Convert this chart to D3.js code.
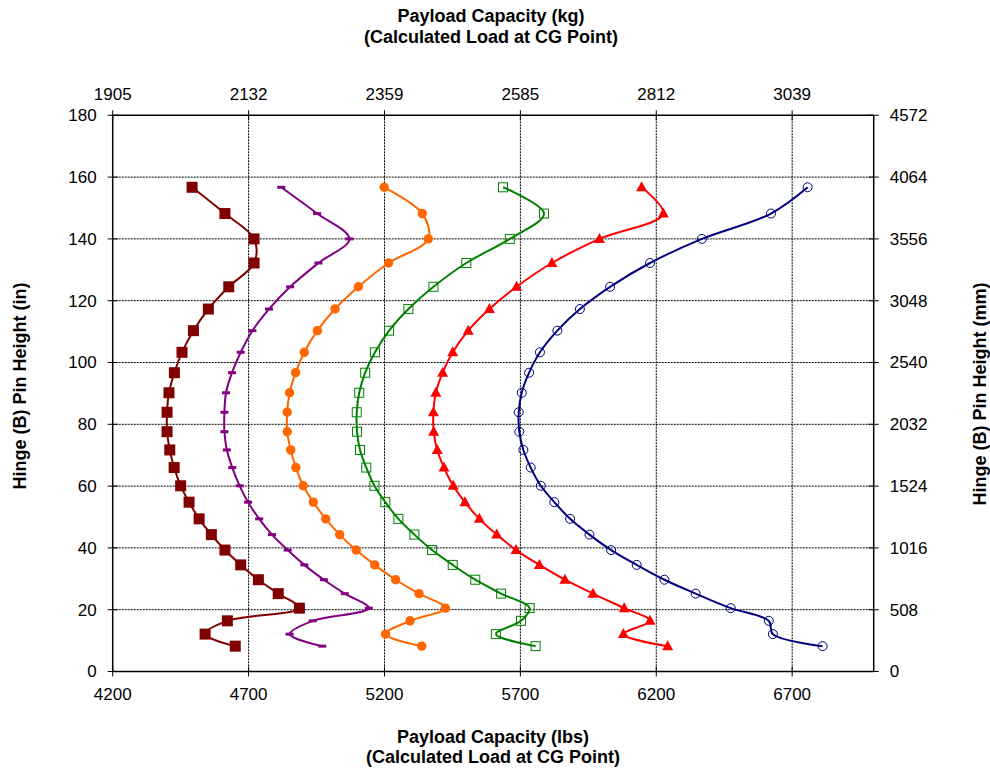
<!DOCTYPE html>
<html><head><meta charset="utf-8">
<script src="https://cdn.jsdelivr.net/npm/d3@7"></script>
<style>body{margin:0;background:#fff}svg{font-family:"Liberation Sans",Arial,sans-serif}</style>
</head><body><svg id="c" width="990" height="768"></svg>
<script>
const heightsIn = [8.2,12.1,16.4,20.5,25.2,29.7,34.5,39.3,44.3,49.4,54.8,60.1,66.0,71.7,77.6,83.9,90.2,96.7,103.3,110.3,117.3,124.5,132.2,140.0,148.2,156.7];
const seriesDarkRed = [4651,4540,4622,4887,4809,4736,4671,4613,4563,4518,4481,4450,4426,4410,4400,4400,4407,4427,4455,4497,4552,4627,4720,4720,4613,4492];
const seriesPurple  = [4971,4851,4936,5142,5054,4977,4905,4844,4786,4739,4698,4667,4640,4620,4611,4611,4617,4639,4671,4714,4775,4853,4957,5071,4952,4820];
const seriesOrange  = [5337,5204,5294,5424,5327,5241,5164,5096,5035,4984,4938,4901,4874,4855,4842,4842,4851,4873,4905,4953,5018,5104,5215,5361,5339,5199];
const seriesGreen   = [5756,5610,5702,5734,5629,5534,5451,5375,5310,5251,5203,5163,5133,5110,5099,5098,5107,5129,5165,5217,5288,5380,5501,5661,5787,5636];
const seriesRed     = [6242,6079,6177,6082,5967,5864,5770,5684,5613,5549,5496,5453,5419,5394,5381,5380,5389,5414,5451,5508,5586,5686,5816,5991,6226,6146];
const seriesBlue    = [6812,6629,6614,6474,6345,6230,6128,6034,5954,5883,5825,5775,5738,5711,5696,5694,5705,5732,5772,5836,5919,6030,6177,6368,6622,6757];
const lbsTicks = [4200,4700,5200,5700,6200,6700];
const kgTickLabels = ["1905","2132","2359","2585","2812","3039"];
const inTicks = [0,20,40,60,80,100,120,140,160,180];
const mmTicks = [0,508,1016,1524,2032,2540,3048,3556,4064,4572];

const series = [
  {v:seriesDarkRed, color:"#800000", marker:"squareFill"},
  {v:seriesPurple,  color:"#800080", marker:"dash"},
  {v:seriesOrange,  color:"#FF6600", marker:"circleFill"},
  {v:seriesGreen,   color:"#008000", marker:"squareOpen"},
  {v:seriesRed,     color:"#FF0000", marker:"triangle"},
  {v:seriesBlue,    color:"#000080", marker:"circleOpen"}
];

const svg = d3.select("#c");
const L=112.7, R=873.7, T=115.3, B=671.5;
const x = d3.scaleLinear().domain([4200,7000]).range([L,R]);
const y = d3.scaleLinear().domain([0,180]).range([B,T]);
const yMm = d3.scaleLinear().domain([0,4572]).range([B,T]);

// grid
const g = svg.append("g");
g.selectAll("line.hg").data(inTicks.filter(d=>d>0&&d<180)).enter().append("line")
  .attr("x1",L).attr("x2",R).attr("y1",d=>y(d)).attr("y2",d=>y(d))
  .attr("stroke","#000").attr("stroke-width",1).attr("stroke-dasharray","2,1");
g.selectAll("line.vg").data(lbsTicks.filter(d=>d>4200)).enter().append("line")
  .attr("y1",T).attr("y2",B).attr("x1",d=>x(d)).attr("x2",d=>x(d))
  .attr("stroke","#000").attr("stroke-width",1).attr("stroke-dasharray","2,1");

// frame lines
const ax = svg.append("g").attr("stroke","#000").attr("stroke-width",1.5);
ax.append("line").attr("x1",L).attr("x2",L).attr("y1",T).attr("y2",B);
ax.append("line").attr("x1",R).attr("x2",R).attr("y1",T).attr("y2",B);
ax.append("line").attr("x1",L).attr("x2",R).attr("y1",B).attr("y2",B);
ax.append("line").attr("x1",L).attr("x2",R).attr("y1",T).attr("y2",T);

// ticks
const tk = svg.append("g").attr("stroke","#000").attr("stroke-width",1);
inTicks.forEach(d=>{ tk.append("line").attr("x1",L-5).attr("x2",L+5).attr("y1",y(d)).attr("y2",y(d)); });
mmTicks.forEach(d=>{ tk.append("line").attr("x1",R-5).attr("x2",R+5).attr("y1",yMm(d)).attr("y2",yMm(d)); });
lbsTicks.forEach(d=>{ tk.append("line").attr("y1",B-5).attr("y2",B+5).attr("x1",x(d)).attr("x2",x(d));
                      tk.append("line").attr("y1",T-5).attr("y2",T+5).attr("x1",x(d)).attr("x2",x(d)); });

// tick labels
const fs = 17;
svg.selectAll("text.yl").data(inTicks).enter().append("text")
  .attr("x",L-16).attr("y",d=>y(d)).attr("dy","0.35em").attr("text-anchor","end")
  .attr("font-size",fs).text(d=>d);
svg.selectAll("text.yr").data(mmTicks).enter().append("text")
  .attr("x",R+16).attr("y",d=>yMm(d)).attr("dy","0.35em").attr("text-anchor","start")
  .attr("font-size",fs).text(d=>d);
svg.selectAll("text.xb").data(lbsTicks).enter().append("text")
  .attr("x",d=>x(d)).attr("y",B+28).attr("text-anchor","middle")
  .attr("font-size",fs).text(d=>d);
svg.selectAll("text.xt").data(lbsTicks).enter().append("text")
  .attr("x",d=>x(d)).attr("y",T-15).attr("text-anchor","middle")
  .attr("font-size",fs).text((d,i)=>kgTickLabels[i]);

// titles
const tfs = 18;
function title(xp, yp, lines, rot){
  const t = svg.append("text").attr("font-size",tfs).attr("font-weight","bold").attr("text-anchor","middle")
    .attr("transform",`translate(${xp},${yp})${rot?` rotate(${rot})`:""}`);
  lines.forEach((s,i)=>t.append("tspan").attr("x",0).attr("dy",i?20.5:0).text(s));
}
title(491, 22, ["Payload Capacity (kg)","(Calculated Load at CG Point)"]);
title(493, 742.5, ["Payload Capacity (lbs)","(Calculated Load at CG Point)"]);
title(26, 386, ["Hinge (B) Pin Height (in)"], -90);
title(986, 394, ["Hinge (B) Pin Height (mm)"], -90);

// lines
const line = d3.line().x(d=>x(d[0])).y(d=>y(d[1])).curve(d3.curveCatmullRom.alpha(0.5));
series.forEach(s=>{
  const pts = s.v.map((v,i)=>[v,heightsIn[i]]);
  svg.append("path").datum(pts).attr("d",line).attr("fill","none")
    .attr("stroke",s.color).attr("stroke-width",2);
  const mg = svg.append("g");
  pts.forEach(p=>{
    const cx=x(p[0]), cy=y(p[1]);
    if(s.marker==="squareFill") mg.append("rect").attr("x",cx-5.5).attr("y",cy-5.5).attr("width",11).attr("height",11).attr("fill",s.color);
    else if(s.marker==="squareOpen") mg.append("rect").attr("x",cx-4.5).attr("y",cy-4.5).attr("width",9).attr("height",9).attr("fill","none").attr("stroke",s.color).attr("stroke-width",1);
    else if(s.marker==="circleFill") mg.append("circle").attr("cx",cx).attr("cy",cy).attr("r",4.7).attr("fill",s.color);
    else if(s.marker==="circleOpen") mg.append("circle").attr("cx",cx).attr("cy",cy).attr("r",4.5).attr("fill","none").attr("stroke",s.color).attr("stroke-width",1);
    else if(s.marker==="triangle") mg.append("path").attr("d",`M${cx},${cy-6}L${cx+5.5},${cy+4}L${cx-5.5},${cy+4}Z`).attr("fill",s.color);
    else if(s.marker==="dash") mg.append("rect").attr("x",cx-4).attr("y",cy-1.5).attr("width",8).attr("height",3).attr("fill",s.color);
  });
});
</script></body></html>
